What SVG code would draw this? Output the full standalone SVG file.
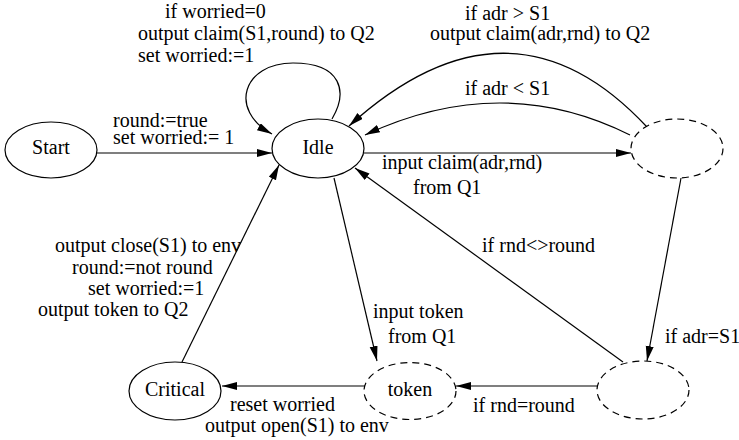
<svg xmlns="http://www.w3.org/2000/svg" width="739" height="440" viewBox="0 0 739 440">
<style>
text{font-family:"Liberation Serif","DejaVu Serif","Times New Roman",serif;font-size:20px;fill:#000}
.c{text-anchor:middle}
.n{fill:#fff;stroke:#000;stroke-width:1.2}
.d{stroke-dasharray:7 5}
.e{fill:none;stroke:#000;stroke-width:1.2;marker-end:url(#ah)}
</style>
<defs>
<marker id="ah" markerUnits="userSpaceOnUse" markerWidth="16" markerHeight="10" refX="15" refY="4" orient="auto">
<path d="M0,0 L15,4 L0,8 z" fill="#000"/>
</marker>
</defs>
<rect width="739" height="440" fill="#fff"/>
<g id="connectors">
<path class="e" d="M97,153 L272,153"/>
<path class="e" d="M364,153 L631,153"/>
<path class="e" d="M332,119 C348,92 342,63 293,63 C243,63 228,110 272,134"/>
<path class="e" d="M647,127 Q510,-20 349,126"/>
<path class="e" d="M630,135 Q502,71 365,135"/>
<path class="e" d="M334,178 L377,361"/>
<path class="e" d="M681,178 L647,361"/>
<path class="e" d="M623,362 L355,168"/>
<path class="e" d="M597,386 L456,386"/>
<path class="e" d="M365,386 L222,386"/>
<path class="e" d="M182,362 L279,165"/>
</g>
<g id="start"><ellipse class="n" cx="51" cy="150" rx="46" ry="28"/><text class="c" x="51" y="154">Start</text></g>
<g id="idle"><ellipse class="n" cx="318" cy="148.5" rx="46" ry="29.5"/><text class="c" x="318" y="154">Idle</text></g>
<g id="claim"><ellipse class="n d" cx="677" cy="148.5" rx="46" ry="29.5"/></g>
<g id="check"><ellipse class="n d" cx="643" cy="390" rx="46" ry="29"/></g>
<g id="token"><ellipse class="n d" cx="410" cy="391" rx="46" ry="28.5"/><text class="c" x="410" y="396">token</text></g>
<g id="critical"><ellipse class="n" cx="175" cy="391" rx="46" ry="29"/><text class="c" x="175" y="396">Critical</text></g>
<g id="labels">
<text x="165" y="18">if worried=0</text>
<text x="138" y="40">output claim(S1,round) to Q2</text>
<text x="138" y="62">set worried:=1</text>
<text x="113" y="127">round:=true</text>
<text x="113" y="144">set worried:= 1</text>
<text x="465" y="20">if adr &gt; S1</text>
<text x="430" y="40">output claim(adr,rnd) to Q2</text>
<text x="465" y="95">if adr &lt; S1</text>
<text x="382" y="169">input claim(adr,rnd)</text>
<text x="413" y="194">from Q1</text>
<text x="482" y="252">if rnd&lt;&gt;round</text>
<text x="55" y="252">output close(S1) to env</text>
<text x="72" y="274">round:=not round</text>
<text x="88" y="295">set worried:=1</text>
<text x="38" y="316">output token to Q2</text>
<text x="373" y="318">input token</text>
<text x="388" y="343">from Q1</text>
<text x="665" y="343">if adr=S1</text>
<text x="473" y="412">if rnd=round</text>
<text x="230" y="411">reset worried</text>
<text x="205" y="432">output open(S1) to env</text>
</g>
</svg>
